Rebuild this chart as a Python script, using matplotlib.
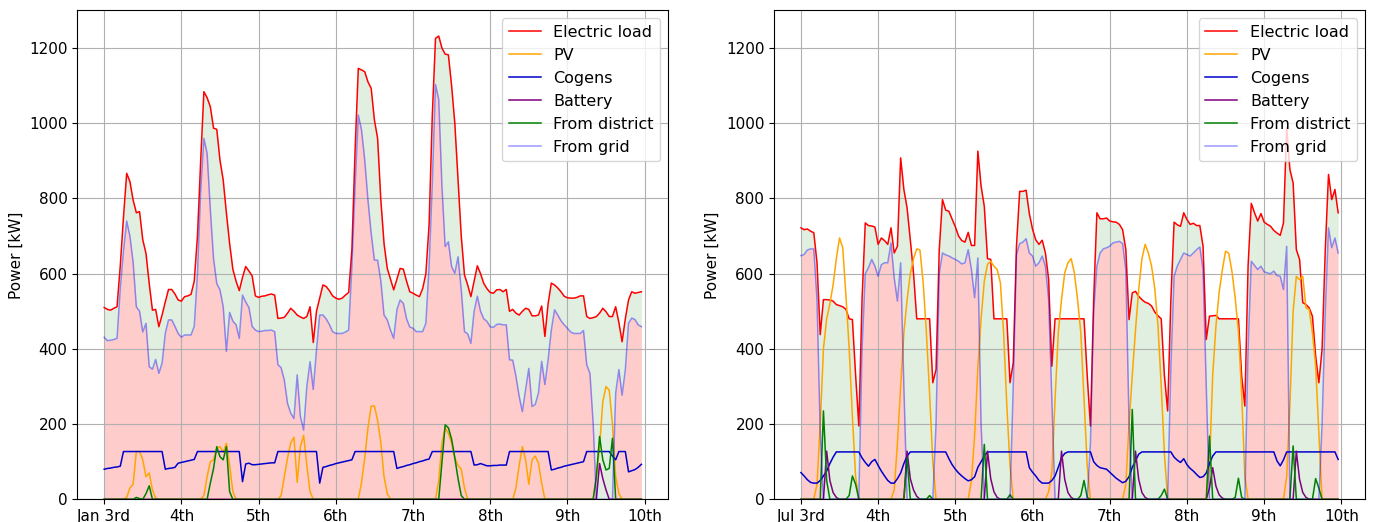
import matplotlib
matplotlib.use("Agg")
import matplotlib.pyplot as plt
import numpy as np

plt.rcParams["font.size"] = 11

hours = np.arange(168)
day_ticks = np.arange(0, 169, 24)
jan_labels = ["Jan 3rd", "4th", "5th", "6th", "7th", "8th", "9th", "10th"]
jul_labels = ["Jul 3rd", "4th", "5th", "6th", "7th", "8th", "9th", "10th"]

# ---- January week, hourly values [kW], one row per day ----
jan_load = [
    [510, 505, 503, 508, 512, 620, 750, 867, 845, 796, 762, 765, 690, 654, 574, 503, 505, 459, 490, 525, 558, 558, 546, 530],
    [527, 539, 541, 545, 580, 700, 900, 1084, 1068, 1044, 987, 984, 902, 849, 761, 680, 612, 580, 555, 590, 619, 607, 594, 541],
    [537, 540, 541, 544, 546, 543, 481, 482, 484, 495, 508, 500, 490, 485, 481, 486, 512, 417, 500, 535, 570, 566, 555, 541],
    [535, 532, 535, 543, 550, 663, 929, 1146, 1142, 1137, 1110, 1093, 1009, 960, 796, 680, 614, 585, 557, 585, 614, 612, 580, 552],
    [548, 543, 539, 560, 600, 730, 1020, 1226, 1232, 1200, 1184, 1182, 1100, 1000, 850, 700, 597, 570, 539, 580, 621, 600, 574, 560],
    [550, 548, 557, 558, 552, 558, 500, 505, 495, 490, 500, 508, 505, 488, 488, 490, 514, 433, 520, 575, 570, 562, 552, 540],
    [536, 535, 535, 537, 541, 541, 486, 481, 483, 486, 495, 508, 499, 486, 486, 512, 470, 419, 480, 530, 552, 548, 550, 552],
]
jan_grid = [
    [431, 422, 423, 425, 428, 560, 660, 740, 700, 630, 512, 500, 445, 468, 353, 346, 372, 335, 362, 441, 477, 477, 460, 441],
    [431, 437, 437, 437, 460, 600, 820, 960, 920, 770, 640, 574, 557, 512, 393, 497, 474, 464, 428, 543, 525, 510, 460, 450],
    [446, 447, 449, 449, 450, 446, 358, 350, 317, 255, 229, 215, 331, 220, 184, 300, 366, 292, 397, 490, 490, 480, 465, 446],
    [441, 441, 441, 445, 450, 619, 832, 1022, 982, 902, 796, 707, 636, 636, 580, 490, 477, 450, 428, 504, 530, 521, 480, 458],
    [455, 446, 446, 446, 468, 619, 841, 1103, 1063, 832, 672, 685, 619, 601, 645, 557, 446, 440, 415, 500, 540, 500, 480, 473],
    [459, 457, 465, 466, 464, 464, 371, 370, 327, 274, 233, 292, 348, 247, 252, 283, 367, 305, 371, 450, 504, 490, 475, 464],
    [455, 445, 441, 441, 441, 449, 358, 335, 202, 0, 0, 0, 0, 0, 0, 282, 345, 277, 344, 468, 482, 478, 464, 459],
]
jan_pv = [
    [0, 0, 0, 0, 0, 0, 0, 5, 30, 40, 127, 127, 105, 60, 70, 25, 3, 0, 0, 0, 0, 0, 0, 0],
    [0, 0, 0, 0, 0, 0, 0, 10, 60, 100, 105, 135, 140, 125, 149, 90, 20, 0, 0, 0, 0, 0, 0, 0],
    [0, 0, 0, 0, 0, 0, 0, 10, 60, 110, 150, 165, 45, 140, 170, 90, 20, 0, 0, 0, 0, 0, 0, 0],
    [0, 0, 0, 0, 0, 0, 0, 0, 45, 110, 190, 248, 248, 210, 150, 60, 15, 0, 0, 0, 0, 0, 0, 0],
    [0, 0, 0, 0, 0, 0, 0, 0, 50, 150, 190, 175, 150, 110, 90, 80, 30, 0, 0, 0, 0, 0, 0, 0],
    [0, 0, 0, 0, 0, 0, 0, 0, 30, 90, 140, 105, 40, 105, 115, 96, 43, 0, 0, 0, 0, 0, 0, 0],
    [0, 0, 0, 0, 0, 0, 0, 0, 0, 60, 140, 260, 300, 290, 200, 60, 15, 0, 0, 0, 0, 0, 0, 0],
]
jan_cogen = [
    [80, 82, 83, 85, 86, 88, 127, 127, 127, 127, 127, 127, 127, 127, 127, 127, 127, 127, 127, 80, 82, 83, 85, 96],
    [98, 100, 102, 104, 106, 127, 127, 127, 127, 127, 127, 127, 127, 127, 127, 127, 127, 127, 127, 47, 94, 96, 92, 92],
    [93, 94, 95, 96, 97, 97, 127, 127, 127, 127, 127, 127, 127, 127, 127, 127, 127, 127, 127, 43, 85, 87, 90, 92],
    [95, 97, 99, 101, 103, 105, 127, 127, 127, 127, 127, 127, 127, 127, 127, 127, 127, 127, 127, 82, 85, 87, 90, 92],
    [95, 97, 100, 102, 105, 107, 127, 127, 127, 127, 127, 127, 127, 127, 127, 127, 127, 127, 127, 91, 92, 95, 92, 89],
    [89, 90, 90, 91, 91, 91, 127, 127, 127, 127, 127, 127, 127, 127, 127, 127, 127, 127, 127, 78, 80, 83, 85, 88],
    [90, 92, 94, 96, 98, 100, 127, 127, 127, 127, 127, 127, 127, 127, 115, 105, 127, 127, 127, 73, 76, 79, 85, 93],
]
jan_battery = [
    [0] * 24,
    [0] * 24,
    [0] * 24,
    [0] * 24,
    [0] * 24,
    [0] * 24,
    [0, 0, 0, 0, 0, 0, 0, 0, 0, 0, 95, 55, 25, 0, 0, 0, 0, 0, 0, 0, 0, 0, 0, 0],
]
jan_district = [
    [0, 0, 0, 0, 0, 0, 0, 0, 0, 0, 5, 2, 0, 15, 36, 0, 0, 0, 0, 0, 0, 0, 0, 0],
    [0, 0, 0, 0, 0, 0, 0, 0, 0, 43, 82, 140, 113, 105, 140, 20, 0, 0, 0, 0, 0, 0, 0, 0],
    [0] * 24,
    [0] * 24,
    [0, 0, 0, 0, 0, 0, 0, 0, 0, 100, 198, 190, 160, 110, 55, 10, 0, 0, 0, 0, 0, 0, 0, 0],
    [0] * 24,
    [0, 0, 0, 0, 0, 0, 0, 0, 0, 60, 167, 105, 78, 82, 162, 0, 0, 0, 0, 0, 0, 0, 0, 0],
]

# ---- July week ----
jul_load = [
    [722, 717, 719, 713, 709, 629, 438, 531, 531, 530, 527, 518, 515, 512, 505, 480, 478, 330, 195, 531, 735, 728, 727, 724],
    [678, 695, 688, 678, 722, 655, 673, 908, 824, 775, 690, 602, 480, 480, 480, 480, 480, 310, 345, 664, 797, 769, 766, 745],
    [725, 700, 688, 684, 710, 675, 675, 926, 833, 779, 640, 638, 480, 480, 480, 480, 480, 310, 363, 673, 819, 819, 822, 760],
    [718, 690, 678, 689, 655, 585, 354, 480, 480, 480, 480, 480, 480, 480, 480, 480, 480, 328, 195, 531, 762, 746, 746, 748],
    [740, 738, 737, 731, 717, 664, 478, 549, 553, 540, 531, 524, 521, 514, 498, 488, 480, 328, 235, 531, 737, 730, 726, 762],
    [744, 731, 734, 728, 728, 673, 425, 487, 488, 489, 480, 480, 480, 480, 480, 480, 480, 328, 248, 620, 787, 762, 740, 760],
    [737, 731, 726, 715, 708, 702, 735, 988, 877, 841, 664, 638, 523, 518, 509, 487, 381, 310, 399, 664, 864, 797, 824, 762],
]
jul_grid = [
    [648, 651, 663, 666, 666, 531, 177, 0, 0, 0, 0, 0, 0, 0, 0, 0, 0, 0, 0, 400, 600, 616, 638, 620],
    [593, 624, 629, 629, 682, 589, 527, 629, 300, 0, 0, 0, 0, 0, 0, 0, 0, 0, 200, 600, 655, 650, 647, 642],
    [638, 633, 626, 629, 664, 611, 536, 642, 200, 0, 0, 0, 0, 0, 0, 0, 0, 0, 300, 650, 680, 684, 693, 655],
    [647, 620, 629, 647, 620, 531, 266, 0, 0, 0, 0, 0, 0, 0, 0, 0, 0, 0, 150, 500, 620, 655, 666, 669],
    [673, 682, 684, 686, 680, 610, 200, 0, 0, 0, 0, 0, 0, 0, 0, 0, 0, 0, 0, 354, 593, 620, 638, 655],
    [651, 647, 655, 664, 671, 611, 300, 0, 0, 0, 0, 0, 0, 0, 0, 0, 0, 0, 0, 400, 633, 622, 611, 620],
    [605, 602, 600, 607, 595, 593, 558, 673, 0, 0, 0, 0, 0, 0, 0, 0, 0, 0, 200, 500, 722, 669, 695, 655],
]
jul_pv = [
    [0, 0, 0, 0, 0, 40, 200, 400, 480, 520, 570, 640, 695, 669, 540, 400, 220, 60, 0, 0, 0, 0, 0, 0],
    [0, 0, 0, 0, 0, 25, 150, 300, 443, 530, 600, 640, 666, 663, 576, 443, 280, 100, 0, 0, 0, 0, 0, 0],
    [0, 0, 0, 0, 0, 50, 170, 350, 480, 580, 625, 633, 620, 611, 576, 443, 250, 89, 0, 0, 0, 0, 0, 0],
    [0, 0, 0, 0, 0, 20, 71, 266, 443, 531, 602, 629, 640, 602, 531, 443, 266, 89, 0, 0, 0, 0, 0, 0],
    [0, 0, 0, 0, 0, 40, 200, 330, 450, 558, 640, 678, 655, 620, 560, 460, 300, 120, 0, 0, 0, 0, 0, 0],
    [0, 0, 0, 0, 0, 0, 0, 89, 330, 460, 550, 610, 660, 654, 605, 535, 445, 280, 60, 0, 0, 0, 0, 0],
    [0, 0, 0, 0, 0, 0, 0, 60, 250, 500, 593, 584, 593, 509, 505, 443, 354, 177, 0, 0, 0, 0, 0, 0],
]
jul_cogen = [
    [71, 62, 52, 45, 43, 43, 50, 62, 75, 95, 112, 126, 126, 126, 126, 126, 126, 126, 126, 110, 98, 88, 100, 106],
    [90, 75, 62, 50, 43, 43, 55, 70, 95, 115, 126, 126, 126, 126, 126, 126, 126, 126, 126, 126, 126, 126, 108, 92],
    [80, 70, 62, 55, 49, 52, 60, 85, 100, 115, 126, 126, 126, 126, 126, 126, 126, 126, 126, 126, 126, 126, 126, 84],
    [72, 62, 50, 43, 43, 43, 50, 62, 85, 110, 122, 126, 126, 126, 126, 126, 126, 126, 126, 100, 90, 84, 82, 80],
    [72, 64, 56, 50, 44, 48, 60, 85, 102, 120, 126, 126, 126, 126, 126, 126, 126, 126, 126, 126, 112, 104, 98, 108],
    [92, 82, 75, 66, 58, 60, 70, 95, 115, 126, 126, 126, 126, 126, 126, 126, 126, 126, 126, 126, 126, 126, 126, 126],
    [126, 126, 126, 126, 102, 89, 105, 126, 126, 126, 126, 126, 126, 126, 126, 126, 126, 126, 126, 126, 126, 126, 126, 106],
]
jul_battery = [
    [0, 0, 0, 0, 0, 0, 0, 0, 128, 50, 18, 5, 0, 0, 0, 0, 0, 0, 0, 0, 0, 0, 0, 0],
    [0, 0, 0, 0, 0, 0, 0, 0, 0, 128, 55, 25, 8, 0, 0, 0, 0, 0, 0, 0, 0, 0, 0, 0],
    [0, 0, 0, 0, 0, 0, 0, 0, 0, 0, 128, 55, 20, 5, 0, 0, 0, 0, 0, 0, 0, 0, 0, 0],
    [0, 0, 0, 0, 0, 0, 0, 0, 0, 128, 53, 18, 5, 0, 0, 0, 0, 0, 0, 0, 0, 0, 0, 0],
    [0, 0, 0, 0, 0, 0, 0, 0, 128, 53, 18, 5, 0, 0, 0, 0, 0, 0, 0, 0, 0, 0, 0, 0],
    [0, 0, 0, 0, 0, 0, 0, 30, 84, 35, 12, 3, 0, 0, 0, 0, 0, 0, 0, 0, 0, 0, 0, 0],
    [0, 0, 0, 0, 0, 0, 0, 0, 0, 0, 128, 53, 18, 5, 0, 0, 0, 0, 0, 0, 0, 0, 0, 0],
]
jul_district = [
    [0, 0, 0, 0, 0, 0, 0, 235, 50, 0, 0, 0, 0, 0, 0, 10, 62, 40, 0, 0, 0, 0, 0, 0],
    [0, 0, 0, 0, 0, 0, 0, 0, 0, 110, 0, 0, 0, 0, 0, 0, 10, 0, 0, 0, 0, 0, 0, 0],
    [0, 0, 0, 0, 0, 0, 0, 0, 0, 146, 0, 0, 0, 0, 0, 0, 0, 12, 0, 0, 0, 0, 0, 0],
    [0, 0, 0, 0, 0, 0, 0, 0, 0, 0, 0, 0, 0, 0, 0, 10, 50, 5, 0, 0, 0, 0, 0, 0],
    [0, 0, 0, 0, 0, 0, 0, 239, 0, 0, 0, 0, 0, 0, 0, 0, 10, 27, 0, 0, 0, 0, 0, 0],
    [0, 0, 0, 0, 0, 0, 0, 168, 0, 0, 0, 0, 0, 0, 0, 5, 56, 5, 0, 0, 0, 0, 0, 0],
    [0, 0, 0, 0, 0, 0, 0, 0, 0, 142, 0, 0, 0, 0, 0, 0, 55, 30, 0, 0, 0, 0, 0, 0],
]


def week(rows):
    return np.array(rows, dtype=float).ravel()


def plot_week(ax, load, pv, cogen, battery, district, grid, labels):
    load, pv, cogen = week(load), week(pv), week(cogen)
    battery, district, grid = week(battery), week(district), week(grid)
    lw = 1.1
    ax.plot(hours, load, color="red", lw=lw, label="Electric load")
    ax.plot(hours, pv, color="orange", lw=lw, label="PV")
    ax.plot(hours, cogen, color="mediumblue", lw=lw, label="Cogens")
    ax.plot(hours, battery, color="purple", lw=lw, label="Battery")
    ax.plot(hours, district, color="green", lw=lw, label="From district")
    ax.plot(hours, grid, color="blue", alpha=0.4, lw=lw, label="From grid")
    ax.fill_between(hours, 0, grid, color="red", alpha=0.2, lw=0)
    ax.fill_between(hours, grid, load, color="green", alpha=0.12, lw=0)
    ax.set_ylim(0, 1300)
    ax.set_yticks(np.arange(0, 1201, 200))
    ax.set_xticks(day_ticks, labels)
    ax.set_ylabel("Power [kW]")
    ax.grid(True)
    ax.legend(loc="upper right", fontsize=11.5)


fig = plt.figure(figsize=(13.83, 5.22), dpi=100)
ax1 = fig.add_axes([0.0559, 0.0435, 0.4273, 0.9364])
ax2 = fig.add_axes([0.5597, 0.0435, 0.4273, 0.9364])

plot_week(ax1, jan_load, jan_pv, jan_cogen, jan_battery, jan_district, jan_grid, jan_labels)
plot_week(ax2, jul_load, jul_pv, jul_cogen, jul_battery, jul_district, jul_grid, jul_labels)

fig.savefig("out.png", dpi=100)
